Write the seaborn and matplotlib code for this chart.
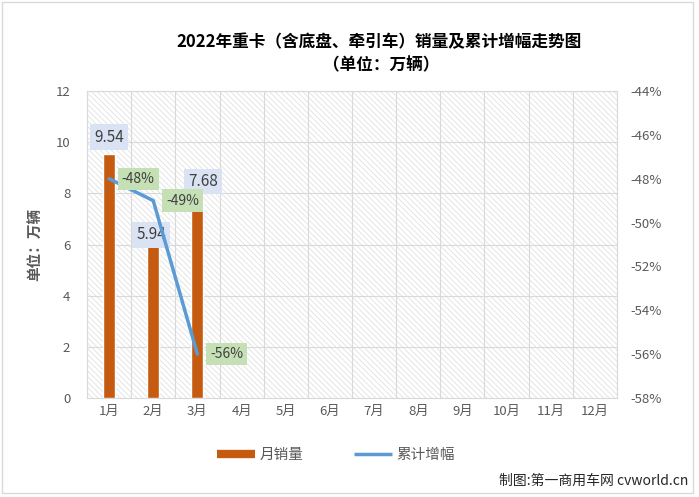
import numpy as np
import pandas as pd
import matplotlib
matplotlib.use("Agg")
import matplotlib.pyplot as plt
import seaborn as sns
from matplotlib.patches import Rectangle
from matplotlib.lines import Line2D
from matplotlib.ticker import FuncFormatter, MultipleLocator, FixedLocator

# data
months = ["1月", "2月", "3月", "4月", "5月", "6月", "7月", "8月", "9月", "10月", "11月", "12月"]
sales = [9.54, 5.94, 7.68]          # 月销量, 万辆
growth = [-48, -49, -56]            # 累计增幅, %
sales_labels = ["9.54", "5.94", "7.68"]
growth_labels = ["-48%", "-49%", "-56%"]

orange = "#c55a11"
blue = "#5b9bd5"
grey_txt = "#595959"
grid_c = "#d9d9d9"

sns.set_style("white")
plt.rcParams["font.family"] = ["Noto Sans CJK SC", "DejaVu Sans"]
plt.rcParams["hatch.linewidth"] = 0.5
plt.rcParams["hatch.color"] = "#dcdcdc"

fig = plt.figure(figsize=(6.99, 4.97), dpi=100)
ax = fig.add_axes([87 / 699, 1 - 398 / 497, 530 / 699, 307 / 497])

# hatched plot area background
ax.add_patch(Rectangle((0, 0), 1, 1, transform=ax.transAxes, facecolor="white",
                       edgecolor="#dcdcdc", hatch="\\" * 6, lw=0, zorder=0))

df = pd.DataFrame({"month": months[:len(sales)], "sales": sales})
sns.barplot(data=df, x="month", y="sales", order=months, color=orange, saturation=1,
            width=0.27, ax=ax, zorder=3)

ax.set_xlim(-0.5, len(months) - 0.5)
ax.set_ylim(0, 12)
ax.yaxis.set_major_locator(MultipleLocator(2))
ax.xaxis.set_minor_locator(FixedLocator(np.arange(-0.5, len(months), 1)))
ax.grid(axis="y", which="major", color=grid_c, lw=0.8, zorder=1)
ax.grid(axis="x", which="minor", color=grid_c, lw=0.8, zorder=1)
ax.set_axisbelow(True)
ax.tick_params(axis="y", which="both", length=0, labelsize=9.5, labelcolor=grey_txt, pad=12)
ax.tick_params(axis="x", which="major", length=0, labelsize=9.5, labelcolor=grey_txt, pad=5)
ax.tick_params(axis="x", which="minor", length=5, color=grid_c, width=0.8)
ax.set_xlabel("")
ax.set_ylabel("单位：万辆", color=grey_txt, fontsize=10.5, fontweight="bold")
ax.yaxis.set_label_coords(-0.085, 0.5)
for s in ["top", "left", "right", "bottom"]:
    ax.spines[s].set_color(grid_c)
    ax.spines[s].set_linewidth(0.8)

# bar value labels (positions were nudged by hand in the original)
bar_offsets = [(0, 12), (-1.5, 8), (4, 14.5)]
for i, (v, lab) in enumerate(zip(sales, sales_labels)):
    ax.annotate(lab, (i, v), xytext=bar_offsets[i], textcoords="offset points",
                ha="center", va="center", fontsize=11, color="#404040", zorder=5,
                bbox=dict(boxstyle="square,pad=0.28", fc="#dae3f3", ec="none"))

ax2 = ax.twinx()
sns.lineplot(x=np.arange(len(growth)), y=growth, ax=ax2, color=blue, lw=2.5, zorder=4)
ax2.set_ylim(-58, -44)
ax2.yaxis.set_major_locator(MultipleLocator(2))
ax2.yaxis.set_major_formatter(FuncFormatter(lambda v, p: f"{v:.0f}%"))
ax2.tick_params(axis="y", length=0, labelsize=9.5, labelcolor=grey_txt, pad=10)
ax2.set_ylabel("")
ax2.grid(False)
for s in ax2.spines.values():
    s.set_visible(False)

for i, (v, lab) in enumerate(zip(growth, growth_labels)):
    ax2.annotate(lab, (i, v), xytext=(21, 0), textcoords="offset points",
                 ha="center", va="center", fontsize=10, color="#404040", zorder=6,
                 bbox=dict(boxstyle="square,pad=0.3", fc="#c5e0b4", ec="none"))

# title
fig.text(379 / 699, 1 - 42 / 497, "2022年重卡（含底盘、牵引车）销量及累计增幅走势图",
         ha="center", va="center", fontsize=12, fontweight="bold", color="black")
fig.text(381 / 699, 1 - 65 / 497, "（单位：万辆）",
         ha="center", va="center", fontsize=12, fontweight="bold", color="black")

# legend
handles = [Line2D([], [], color=orange, lw=6, solid_capstyle="butt"),
           Line2D([], [], color=blue, lw=2.5, solid_capstyle="butt")]
fig.legend(handles, ["月销量", "累计增幅"], loc="center", bbox_to_anchor=(336 / 699, 1 - 455 / 497),
           ncol=2, frameon=False, fontsize=10.5, labelcolor=grey_txt, handlelength=2.6,
           handletextpad=0.3, columnspacing=3.5)

fig.text(688 / 699, 1 - 481 / 497, "制图:第一商用车网 cvworld.cn", ha="right", va="center",
         fontsize=10, color="#262626")

# outer border
fig.patches.append(Rectangle((2 / 699, 4 / 497), 691 / 699, 491 / 497, transform=fig.transFigure,
                             fill=False, edgecolor=grid_c, lw=1))

fig.savefig("out.png", dpi=100)
